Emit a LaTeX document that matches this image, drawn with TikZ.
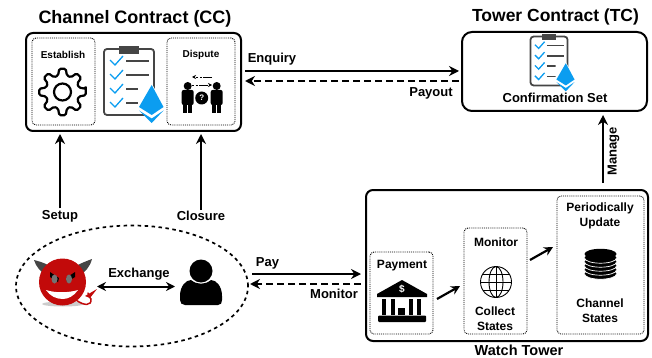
\documentclass[tikz,border=0pt]{standalone}
\usepackage{fontspec}
\setmainfont{Liberation Sans}
\usepackage{xcolor}
\usepackage{tikz}
\usetikzlibrary{shapes.geometric, arrows.meta, positioning}

\definecolor{ethblue}{HTML}{0B9DF0}
\definecolor{clipgray}{HTML}{454545}
\definecolor{devilred}{HTML}{C20A0A}

\tikzset{
    clipboard/.pic={
        \draw[clipgray, line width=1.8pt, rounded corners=3pt] (-25,-33) rectangle (25,33);
        \fill[clipgray] (-10,-36) rectangle (10,-28);
        \foreach \r in {-21,-7,7,21} {
            \draw[ethblue, line width=1.3pt] (-19,\r-1) -- (-14,\r+4) -- (-6,\r-5);
            \draw[clipgray, line width=1.8pt] (-3,\r) -- (20,\r);
        }
        \fill[white] (9,2) -- (23,2) -- (36,25) -- (23,42) -- (9,25) -- cycle;
        \fill[ethblue] (22.7,3) -- (34.5,25) -- (22.7,33) -- (10,25) -- cycle;
        \fill[ethblue] (10,28.5) -- (22.7,36.5) -- (34.5,28.5) -- (22.7,41) -- cycle;
    }
}

\begin{document}
\begin{tikzpicture}[
        x=1pt, y=-1pt,
        font=\bfseries,
        bigbox/.style={draw, line width=2pt, rounded corners=7pt, inner sep=0pt},
        subbox/.style={draw, densely dotted, line width=0.9pt, rounded corners=4pt, inner sep=0pt},
        title/.style={font=\bfseries\fontsize{18}{18}\selectfont, inner sep=0pt},
        label/.style={font=\bfseries\fontsize{13}{13}\selectfont, inner sep=0pt, align=center},
        inlabel/.style={font=\bfseries\fontsize{12}{15}\selectfont, inner sep=0pt, align=center},
        smlabel/.style={font=\bfseries\fontsize{10}{12}\selectfont, inner sep=0pt, align=center},
        flow/.style={line width=2.7pt, -{Stealth[length=10pt,width=10pt]}},
        back/.style={flow, dash pattern=on 7pt off 4pt},
        step line/.style={line width=2.2pt, -{Stealth[length=9pt,width=9pt]}}
        ]
        \useasboundingbox (0,0) rectangle (652,358);

        % Channel contract
        \node[bigbox, minimum width=215pt, minimum height=98pt] (CC) at (133.5,82) {};
        \node[title] (CCtitle) at (135,19) {Channel Contract (CC)};
        \node[subbox, minimum width=63pt, minimum height=87pt] (establishbox) at (63.5,81.5) {};
        \node[smlabel] (establish) at (63,55) {Establish};
        \node[subbox, minimum width=68pt, minimum height=87pt] (disputebox) at (201,81.5) {};
        \node[smlabel] (dispute) at (201,55) {Dispute};
        \pic at (129,82) {clipboard};

        % Gear
        \begin{scope}[shift={(62.5,92)}]
            \draw[line width=2.2pt, line join=round, rounded corners=1.5pt]
                (-8:23.5) \foreach \a in {0,45,...,315} {
                    -- (\a-8:23.5) -- (\a+8:23.5) -- (\a+15:17) -- (\a+30:17)
                } -- cycle;
            \draw[line width=2.2pt] (0,0) circle (8.5);
        \end{scope}

        % Dispute icon
        \foreach \x in {187.7,216.7} {
            \fill (\x,86) circle (4);
            \fill[rounded corners=2pt] (\x-6,90) rectangle (\x+6,105);
            \fill (\x-4.5,100) rectangle (\x-0.7,113);
            \fill (\x+0.7,100) rectangle (\x+4.5,113);
        }
        \fill (201.7,98) circle (6.5);
        \node[font=\bfseries\fontsize{8}{8}\selectfont, text=white, inner sep=0pt] (query) at (201.7,98) {?};
        \draw[line width=0.6pt, -{Stealth[length=4pt,width=4pt]}, dash pattern=on 9pt off 1.5pt on 2pt off 1.5pt on 2pt off 1.5pt] (212,77) -- (192,77);
        \draw[line width=0.6pt, -{Stealth[length=4pt,width=4pt]}, dash pattern=on 2pt off 1.5pt on 2pt off 1.5pt on 9pt off 1.5pt] (192,85) -- (212,85);

        % Tower contract
        \node[bigbox, minimum width=185pt, minimum height=79pt, rounded corners=10pt] (TC) at (554.5,71.5) {};
        \node[title, font=\bfseries\fontsize{17.5}{18}\selectfont] (TCtitle) at (555.5,17) {Tower Contract (TC)};
        \pic[scale=0.74] at (549,61) {clipboard};
        \node[label] (confirm) at (555,98) {Confirmation Set};

        % Watch tower
        \node[bigbox, minimum width=282pt, minimum height=151pt] (WT) at (507,265.5) {};
        \node[label, font=\bfseries\fontsize{14.5}{15}\selectfont] (WTtitle) at (519,350) {Watch Tower};
        \node[subbox, minimum width=63pt, minimum height=82pt] (paybox) at (401.5,293) {};
        \node[inlabel] (payment) at (402,266) {Payment};
        \node[subbox, minimum width=63pt, minimum height=106pt] (monbox) at (495.5,281) {};
        \node[inlabel] (monitorlbl) at (496,242) {Monitor};
        \node[inlabel] (collect) at (495,319) {Collect\\States};
        \node[subbox, minimum width=87pt, minimum height=138pt] (updbox) at (600.5,265) {};
        \node[inlabel] (update) at (600,215.5) {Periodically\\Update};
        \node[inlabel] (chstates) at (600,311) {Channel\\States};

        % Bank
        \fill (402,280) -- (427,294) -- (427,297) -- (377,297) -- (377,294) -- cycle;
        \node[font=\bfseries\fontsize{10}{10}\selectfont, text=white, inner sep=0pt] (dollar) at (402,289) {\$};
        \foreach \x in {384,393,411,419}
            \fill (\x-2.4,298.5) rectangle (\x+2.4,315);
        \fill (398,308) rectangle (405,315);
        \fill[rounded corners=1pt] (378,315.5) rectangle (426,322);

        % Globe
        \begin{scope}[shift={(496,282)}, line width=0.9pt]
            \draw (0,0) circle (15.5);
            \draw (0,0) ellipse (7 and 15.5);
            \draw (0,-15.5) -- (0,15.5);
            \draw (-15.5,0) -- (15.5,0);
            \draw (-13,-8) -- (13,-8);
            \draw (-13,8) -- (13,8);
        \end{scope}

        % Database
        \foreach \y in {274,270,266,262,258} {
            \fill (600.5,\y) ellipse (16 and 5.2);
            \draw[white, line width=0.7pt] (584.5,\y) arc[start angle=180, end angle=360, x radius=16, y radius=-5.2];
        }
        \fill (600.5,254) ellipse (16 and 5.2);

        % Devil
        \fill[black!20] (63,304) ellipse (21 and 2.5);
        \fill[clipgray] (34,260) .. controls (42,262) and (50,265) .. (53,269) -- (46,275) .. controls (41,272) and (36,267) .. (34,260) -- cycle;
        \fill[clipgray] (92,259) .. controls (84,262) and (76,265) .. (73,269) -- (80,275) .. controls (85,272) and (90,267) .. (92,259) -- cycle;
        \fill[devilred] (62.5,282) circle (23.5);
        \draw[devilred, line width=1.5pt, line cap=round] (76,300) .. controls (84,306) and (92,306) .. (91,299) .. controls (90,296) and (87,296) .. (88,293);
        \fill[devilred] (85,296) -- (97,289) -- (90,298) -- cycle;
        \fill[black] (50,272) -- (59,278) -- (58,282) -- (50,277) -- cycle;
        \fill[black] (75,272) -- (66,278) -- (67,282) -- (75,277) -- cycle;
        \fill[black!55] (54.5,279) ellipse (3 and 4.5);
        \fill[black!55] (69,279) ellipse (3 and 4.5);
        \fill[white] (46,290) .. controls (55,293) and (68,293) .. (78,290) .. controls (74,296) and (68,299) .. (63,299) .. controls (56,299) and (50,296) .. (46,290) -- cycle;

        % Person
        \fill (201,271) circle (11.5);
        \fill (180,300) -- (180,296) .. controls (180,286) and (186,280) .. (191,280) .. controls (197,285) and (205,285) .. (211,280) .. controls (216,280) and (222,286) .. (222,296) -- (222,300) .. controls (222,303) and (221,305) .. (218,305) -- (185,305) .. controls (182,305) and (180,303) .. (180,300) -- cycle;

        % Ellipse
        \node[draw, ellipse, line width=1.7pt, dash pattern=on 3.5pt off 3.5pt, minimum width=232pt, minimum height=121pt, inner sep=0pt] (users) at (132,286) {};

        % Vertical arrows
        \node[label] (setup) at (60,216) {Setup};
        \node[label] (closure) at (201,216) {Closure};
        \draw[flow] ([yshift=1.5pt]setup.north) -- ([yshift=-2pt]setup.north |- CC.south);
        \draw[flow] ([yshift=1.5pt]closure.north) -- ([yshift=-2pt]closure.north |- CC.south);
        \node[label, rotate=90] (manage) at (613.5,151.5) {Manage};
        \draw[flow] (603,183) -- ([yshift=-3pt]603,111 |- TC.south);

        % Horizontal arrows
        \coordinate (enqstart) at (245,71);
        \coordinate (outstart) at (245,81);
        \coordinate (paystart) at (252,274);
        \coordinate (monstart) at (250,284);
        \draw[flow] (enqstart) -- ([xshift=-2pt]TC.west |- enqstart);
        \draw[back] ([xshift=-2pt]TC.west |- outstart) -- (outstart);
        \node[label] (enquiry) at (272,59.5) {Enquiry};
        \node[label] (payout) at (431,93) {Payout};
        \draw[flow] (paystart) -- ([xshift=-4pt]WT.west |- paystart);
        \draw[back] ([xshift=-4pt]WT.west |- monstart) -- (monstart);
        \node[label] (pay) at (267.5,263) {Pay};
        \node[label] (monitor) at (334,294) {Monitor};

        % Inside watch tower
        \coordinate (payout1) at (437,299);
        \coordinate (monin) at (460,286);
        \coordinate (monout) at (530,260);
        \coordinate (updin) at (553,247);
        \draw[step line] (payout1) -- (monin);
        \draw[step line] (monout) -- (updin);

        % Exchange
        \draw[line width=2pt, {Stealth[length=9pt,width=9pt]}-{Stealth[length=9pt,width=9pt]}] (97,286.5) -- (175,286.5);
        \node[label] (exchange) at (139,274.5) {Exchange};
    \end{tikzpicture}
\end{document}
